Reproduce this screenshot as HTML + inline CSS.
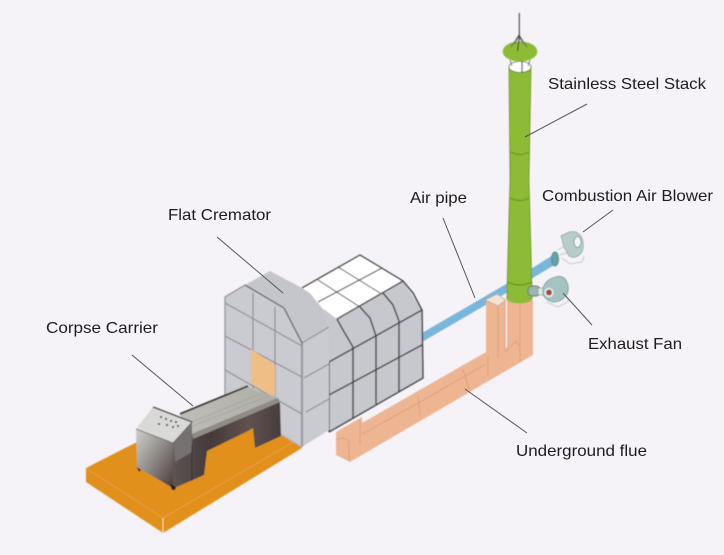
<!DOCTYPE html>
<html><head><meta charset="utf-8"><style>
html,body{margin:0;padding:0;background:#f5f3f7;width:724px;height:555px;overflow:hidden}
svg{display:block}
text{font-family:"Liberation Sans",sans-serif;font-size:16px;fill:#1c1c1e}
</style></head><body>
<svg width="724" height="555" viewBox="0 0 724 555" xmlns="http://www.w3.org/2000/svg">
<defs>
<filter id="b" x="-5%" y="-5%" width="110%" height="110%"><feGaussianBlur stdDeviation="0.5"/></filter>
<linearGradient id="steel" x1="0" y1="0" x2="1" y2="1"><stop offset="0" stop-color="#d2d0cd"/><stop offset=".5" stop-color="#8e8b88"/><stop offset="1" stop-color="#4a3a38"/></linearGradient>
<linearGradient id="steel2" x1="0" y1="0" x2="1" y2="0"><stop offset="0" stop-color="#5d5553"/><stop offset=".35" stop-color="#45393a"/><stop offset=".7" stop-color="#5f5250"/><stop offset="1" stop-color="#493c3e"/></linearGradient>
<linearGradient id="top" x1="0" y1="0" x2="1" y2="0"><stop offset="0" stop-color="#bebdb6"/><stop offset="1" stop-color="#aeada7"/></linearGradient>
</defs>
<rect width="724" height="555" fill="#f5f3f7"/>
<g filter="url(#b)">
<!-- platform -->
<polygon points="86,468 135,443 278,425 302,437 302,448 163,533 86,482" fill="#e2901f"/>
<polyline points="86,468 163,518 302,437" fill="none" stroke="#eca84e" stroke-width=".7"/>
<line x1="163" y1="518" x2="163" y2="533" stroke="#f8dca8" stroke-width="1"/>

<!-- air pipe -->
<polygon points="422,333 508,283 508,292 422,342" fill="#78b6dc"/>
<polygon points="531,269 553,255 556,264 531,279" fill="#78b6dc"/>
<ellipse cx="555" cy="259" rx="3.500" ry="7" fill="#62a3a8" stroke="#5d8a8c"/>

<!-- flue -->
<polygon points="336,432 362,417 362,423 486,352 486,300 505,300 505,350 507,346 507,300 533,300 533,355 350,462 336,455" fill="#eeb592"/>
<g fill="none" stroke="#d99f7c" stroke-width=".9">
<line x1="498" y1="300" x2="498" y2="358"/><line x1="505" y1="300" x2="505" y2="350"/>
<line x1="520" y1="304" x2="520" y2="362"/>
<line x1="349" y1="441" x2="349" y2="461"/><path d="M336 440 Q342 436 349 441"/>
<line x1="360" y1="420" x2="360" y2="445"/>
<line x1="362" y1="434" x2="420" y2="402"/><line x1="420" y1="402" x2="486" y2="364"/>
<line x1="418" y1="396" x2="420" y2="417"/><line x1="463" y1="369" x2="469" y2="389"/>
<line x1="488" y1="356" x2="488" y2="376"/><path d="M505 352 L516 341 L519 346"/>
</g>
<polygon points="485,300 497,294 506,300 498,306" fill="#f3e4d8" stroke="#c49a80" stroke-width=".7"/>

<!-- stack -->
<polygon points="509,66 531,66 529,180 532,290 532,299 507,299 507,290 510,180" fill="#8dbb35" stroke="#6b932a" stroke-width=".8"/>
<ellipse cx="519.500" cy="299" rx="12.500" ry="4.500" fill="#8dbb35"/>
<ellipse cx="520" cy="67" rx="11" ry="5.500" fill="#fff" stroke="#607a30" stroke-width=".8"/>
<line x1="522" y1="61" x2="522" y2="73" stroke="#444" stroke-width="1.200"/>
<line x1="510" y1="60" x2="512" y2="66" stroke="#555" stroke-width=".7"/><line x1="530" y1="60" x2="528" y2="66" stroke="#555" stroke-width=".7"/>
<ellipse cx="520" cy="51.500" rx="17.300" ry="10" fill="#8dbb35"/>
<path d="M511 47 L519 35 L527 47 M515 44 L519 36 L523 44" fill="none" stroke="#555" stroke-width=".8"/>
<line x1="519.300" y1="13" x2="519.300" y2="38" stroke="#333" stroke-width="1"/>
<line x1="519.300" y1="38" x2="517.500" y2="51" stroke="#333" stroke-width="1"/>
<g fill="none" stroke="#5f8a25" stroke-width="1">
<path d="M510.500 152 Q520 157 529 152"/>
<path d="M510.500 198 Q520 203 529 198"/>
<path d="M507.500 282 Q520 288 532 282"/>
</g>

<!-- blower -->
<g>
<path d="M558 250 L566 245 M562 258 L570 264 L582 262 L584 256 M560 255 L572 251" fill="none" stroke="#ccd4d2" stroke-width="1.300"/>
<path d="M561 236 L567 233 Q575 229 581 236 Q585 244 582 252 Q576 260 569 256 L564 247 Z" fill="#b6cdc9" stroke="#8ea5a3" stroke-width=".7"/>
<ellipse cx="577.500" cy="242" rx="3.500" ry="5.500" fill="#f5f4f5" stroke="#7c9391" stroke-width=".8"/>
</g>
<!-- exhaust fan -->
<g>
<path d="M546 302 L558 307 L569 301 L565 295" fill="none" stroke="#cfd6d4" stroke-width="1.300"/>
<rect x="528" y="286" width="12" height="10" rx="4" fill="#9cb5ad" stroke="#5e7a6c"/>
<rect x="538" y="288" width="8" height="7" fill="#dfe6e4" stroke="#7a8f8c" stroke-width=".6"/>
<path d="M543 288 Q546 279 556 277 Q562 275 566 280 Q570 288 567 294 Q562 302 553 302 Q545 300 543 294 Z" fill="#a5c3c1" stroke="#7d9a98" stroke-width=".8"/>
<circle cx="549" cy="292.500" r="3.800" fill="#9c4a3f" stroke="#eee" stroke-width="1.600"/>
</g>

<!-- rear furnace -->
<polygon points="302,287 360,255 403,281 337,319 322,308" fill="#ffffff"/>
<polygon points="322,308 337,319 403,281 422,310 423,378 329,432 329,327" fill="#c6c8cd"/>
<g fill="none" stroke="#3c3d42" stroke-width="1.400">
<polyline points="302,288 360,255 403,281 413,293 422,310 423,378 329,432"/>
<polyline points="337,319 403,281"/>
<line x1="318" y1="302" x2="382" y2="268" stroke-width="1"/>
<line x1="338" y1="267" x2="380" y2="293" stroke-width="1"/>
<line x1="318" y1="280" x2="360" y2="307" stroke-width="1"/>
<polyline points="337,319 343,330 353,347"/>
<polyline points="360,307 370,318 376,336"/>
<polyline points="383,293 393,305 399,321"/>
<polyline points="329,362 422,310"/>
<polyline points="329,395 422,345"/>
<line x1="353" y1="347" x2="353" y2="418"/><line x1="376" y1="336" x2="376" y2="404"/><line x1="399" y1="321" x2="399" y2="391"/>
<line x1="329" y1="362" x2="329" y2="432"/>
</g>

<!-- front furnace -->
<polygon points="225,297 245,285 284,308 302,343 302,447 225,400" fill="#c9cbd0"/>
<polygon points="245,285 270,271 302,288 310,293 322,308 329,327 302,343 284,308" fill="#c5c6cb"/>
<polygon points="302,343 329,327 329,430 302,447" fill="#c9cbd0"/>
<g fill="none" stroke="#8e9095" stroke-width="1.200">
<polyline points="225,400 225,297 245,285"/>
<line x1="225" y1="303" x2="302" y2="346"/>
<line x1="225" y1="336" x2="302" y2="377"/>
<line x1="225" y1="370" x2="302" y2="414"/>
<line x1="253" y1="293" x2="253" y2="415"/><line x1="275" y1="307" x2="275" y2="430"/>
<line x1="302" y1="343" x2="302" y2="447" stroke-width="1.800"/>
<line x1="304" y1="378" x2="329" y2="364"/><line x1="306" y1="412" x2="329" y2="399"/>
<line x1="302" y1="343" x2="329" y2="327"/>
<polyline points="302,447 225,400" stroke="#b5b7bb"/>
</g>
<polyline points="245,285 284,308 302,343" fill="none" stroke="#55565b" stroke-width="1.200"/>
<polygon points="251,349 275,365 275,397 251,384" fill="#efbd86"/>

<!-- carrier -->
<polygon points="192,433 277,398 280,403 281,436 255,448 253,428 248,431 207,451 204,475 172,489 172,443" fill="url(#steel2)"/>
<polygon points="180,415 248,387 278,398 192,434" fill="url(#top)"/>
<g stroke="#9d9c96" stroke-width=".6"><line x1="192" y1="422" x2="260" y2="394"/><line x1="193" y1="426" x2="268" y2="396"/></g>
<polyline points="180,414 248,386" stroke="#3c3a3a" stroke-width="2" fill="none"/>
<polygon points="192,434 278,398 280,402 193,439" fill="#8f8c86"/>
<polygon points="136,429 153,407 192,422 173,443" fill="#d9d9d8"/>
<polygon points="173,443 192,422 192,452 175,462" fill="#767170"/>
<polygon points="136,429 173,443 173,488 137,467" fill="url(#steel)"/>
<polyline points="136,429 173,443 192,422" fill="none" stroke="#666" stroke-width=".8"/>
<line x1="153" y1="407" x2="192" y2="422" stroke="#44444a" stroke-width="1.400"/>
<g fill="#55555b"><rect x="160" y="416" width="2" height="2"/><rect x="165" y="418" width="2" height="2"/><rect x="170" y="420" width="2" height="2"/><rect x="175" y="421" width="2" height="2"/><rect x="166" y="424" width="2" height="2"/><rect x="172" y="426" width="2" height="2"/><rect x="177" y="425" width="2" height="2"/><rect x="158" y="423" width="2" height="2"/></g>
<polygon points="137,467 141,470 139,472" fill="#222"/>
<polygon points="170,484 176,487 175,490 172,490" fill="#222"/>
<line x1="192" y1="445" x2="192" y2="481" stroke="#3a3030" stroke-width="1"/>
</g>

<!-- connectors -->
<g stroke="#55555a" stroke-width="1" fill="none">
<line x1="587" y1="104" x2="525" y2="137"/>
<line x1="443" y1="218" x2="475" y2="298"/>
<line x1="613" y1="210" x2="583" y2="232"/>
<line x1="592" y1="325" x2="563" y2="293"/>
<line x1="527" y1="433" x2="465" y2="389"/>
<line x1="217" y1="237" x2="283" y2="293"/>
<line x1="132" y1="355" x2="193" y2="406"/>
</g>

<!-- labels -->
<text x="548" y="89" textLength="158" lengthAdjust="spacingAndGlyphs">Stainless Steel Stack</text>
<text x="542" y="201" textLength="171" lengthAdjust="spacingAndGlyphs">Combustion Air Blower</text>
<text x="410" y="203" textLength="57" lengthAdjust="spacingAndGlyphs">Air pipe</text>
<text x="588" y="349" textLength="94" lengthAdjust="spacingAndGlyphs">Exhaust Fan</text>
<text x="516" y="456" textLength="131" lengthAdjust="spacingAndGlyphs">Underground flue</text>
<text x="168" y="220" textLength="103" lengthAdjust="spacingAndGlyphs">Flat Cremator</text>
<text x="46" y="333" textLength="112" lengthAdjust="spacingAndGlyphs">Corpse Carrier</text>
</svg>
</body></html>
